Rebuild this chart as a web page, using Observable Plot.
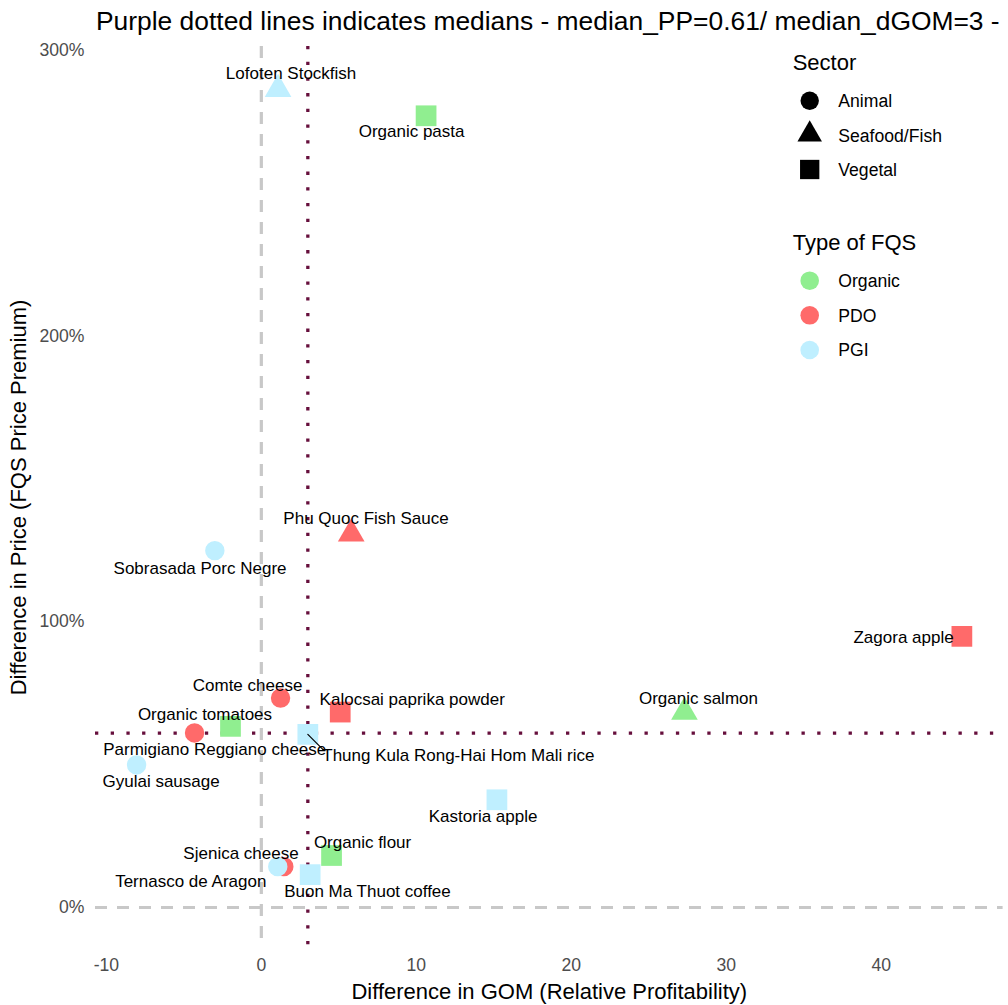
<!DOCTYPE html>
<html><head><meta charset="utf-8">
<script src="https://cdn.jsdelivr.net/npm/d3@7"></script>
<script src="https://cdn.jsdelivr.net/npm/@observablehq/plot@0.6"></script>
<style>
body{margin:0;background:#fff;font-family:"Liberation Sans",Arial,sans-serif;}
#wrap{position:relative;width:1008px;height:1005px;overflow:hidden;background:#fff;}
#title{position:relative;height:40px;}
#title span{position:absolute;left:96px;top:8px;font-size:26.4px;line-height:26.4px;white-space:nowrap;color:#000;}
#legend{position:absolute;left:0;top:0;pointer-events:none;}
</style></head><body>
<div id="wrap"><div id="title"><span>Purple dotted lines indicates medians - median_PP=0.61/ median_dGOM=3 -</span></div><div id="chart"></div></div>
<script>
// ---- data ----
const products = ["Lofoten Stockfish","Organic pasta","Phu Quoc Fish Sauce","Sobrasada Porc Negre","Zagora apple","Comte cheese","Kalocsai paprika powder","Organic salmon","Organic tomatoes","Parmigiano Reggiano cheese","Thung Kula Rong-Hai Hom Mali rice","Gyulai sausage","Kastoria apple","Organic flour","Sjenica cheese","Ternasco de Aragon","Buon Ma Thuot coffee"];
const gom = [1.08, 10.63, 5.8, -3.0, 45.2, 1.24, 5.09, 27.3, -1.99, -4.31, 3.0, -8.05, 15.2, 4.53, 1.45, 1.06, 3.15];
const price = [2.864, 2.771, 1.308, 1.249, 0.949, 0.733, 0.684, 0.684, 0.634, 0.611, 0.606, 0.499, 0.377, 0.182, 0.143, 0.143, 0.115];
const sector = ["Seafood/Fish","Vegetal","Seafood/Fish","Animal","Vegetal","Animal","Vegetal","Seafood/Fish","Vegetal","Animal","Vegetal","Animal","Vegetal","Vegetal","Animal","Animal","Vegetal"];
const fqs = ["PGI","Organic","PDO","PGI","PDO","PDO","PDO","Organic","Organic","PDO","PGI","PGI","PGI","Organic","PDO","PGI","PGI"];
const sectors = ["Animal","Seafood/Fish","Vegetal"];
const fqsTypes = ["Organic","PDO","PGI"];
const medianPP = 0.61;
const medianGOM = 3;
const xTicks = [-10, 0, 10, 20, 30, 40];
const yTicks = [0, 1, 2, 3];
const titleX = "Difference in GOM (Relative Profitability)";
const titleY = "Difference in Price (FQS Price Premium)";

// ---- layout / style (label nudges like ggrepel) ----
const labelNudge = [[13,-16],[-14.5,15.8],[14.8,-15.7],[-14.8,17.8],[-58.3,1.2],[-33,-12.9],[72,-12.9],[14,-13.7],[-25.5,-12.3],[20.2,16.6],[150.5,21.4],[24.5,16.3],[-13.8,17.1],[31,-12.9],[-42.8,-12.6],[-87,15.1],[57.3,16.6]];
const fqsColors = ["#90EE90","#FF6A6A","#BFEFFF"];
const symbolOf = {"Animal":"circle","Seafood/Fish":"triangle","Vegetal":"square"};
const radiusOf = {"Animal":9.7,"Seafood/Fish":9.9,"Vegetal":11.7};
const FONT = "'Liberation Sans', Arial, sans-serif";

const data = products.map((p, i) => ({product: p, gom: gom[i], price: price[i], sector: sector[i], fqs: fqs[i], nudge: labelNudge[i]}));

const lineShape = {draw(ctx, l) { ctx.moveTo(0, 0); ctx.lineTo(0, -l); }};

const marks = [
  Plot.axisX({ticks: xTicks, tickSize: 0, tickPadding: 10, fontSize: 17.6, fill: "#4D4D4D", tickFormat: d => String(d), label: null}),
  Plot.axisY({ticks: yTicks, tickSize: 0, tickPadding: 11, fontSize: 17.6, fill: "#4D4D4D", tickFormat: d => Math.round(d * 100) + "%", label: null}),
  Plot.ruleX([0], {stroke: "#C8C8C8", strokeWidth: 3.2, strokeDasharray: "12 10"}),
  Plot.ruleY([0], {stroke: "#C8C8C8", strokeWidth: 3.2, strokeDasharray: "12 10"}),
  Plot.ruleX([medianGOM], {stroke: "#660F3C", strokeWidth: 3.3, strokeDasharray: "3.3 12.4"}),
  Plot.ruleY([medianPP], {stroke: "#660F3C", strokeWidth: 3.3, strokeDasharray: "3.3 12.4"}),
  ...sectors.map(s => Plot.dot(data.filter(d => d.sector === s), {x: "gom", y: "price", fill: "fqs", symbol: () => symbolOf[s], r: radiusOf[s], stroke: null})),
  Plot.vector(data.filter(d => d.product.startsWith("Thung")), {x: "gom", y: "price", length: 22.6, rotate: 135, anchor: "start", shape: lineShape, stroke: "black", strokeWidth: 1.2}),
  ...data.map(d => Plot.text([d], {x: "gom", y: "price", text: "product", dx: d.nudge[0], dy: d.nudge[1], fontSize: 17, fill: "#000"})),
  Plot.text([titleX], {frameAnchor: "bottom", textAnchor: "middle", dy: 50, fontSize: 22, fill: "#000", text: d => d}),
  Plot.text([titleY], {frameAnchor: "left", textAnchor: "middle", dx: -77, rotate: -90, fontSize: 22, fill: "#000", text: d => d})
];

const chart = Plot.plot({
  width: 1008, height: 965,
  marginLeft: 95, marginRight: 5.4, marginTop: 6, marginBottom: 57,
  style: {fontFamily: FONT, background: "white", overflow: "visible"},
  x: {domain: [-10.7, 47.86]},
  y: {domain: [-0.1435, 3.0135]},
  color: {domain: fqsTypes, range: fqsColors},
  symbol: {domain: ["circle","triangle","square"], range: ["circle","triangle","square"]},
  marks
});
document.getElementById("chart").appendChild(chart);

// ---- legend (inside panel, top right) ----
const lg = d3.select("#wrap").append("svg").attr("id", "legend").attr("width", 1008).attr("height", 400)
  .style("font-family", FONT);
lg.append("text").attr("x", 792.7).attr("y", 70.1).attr("font-size", 22).text("Sector");
const symY = [100.7, 134.3, 169.5];
const symT = [d3.symbolCircle, d3.symbolTriangle, d3.symbolSquare];
const symR = [9.2, 9.1, 10.9];
sectors.forEach((s, i) => {
  lg.append("path").attr("transform", `translate(809.7,${symY[i]})`)
    .attr("d", d3.symbol(symT[i], symR[i] * symR[i] * Math.PI)()).attr("fill", "#000");
  lg.append("text").attr("x", 838.3).attr("y", [106.6, 142, 176.3][i]).attr("font-size", 17.6).text(s);
});
lg.append("text").attr("x", 792.7).attr("y", 249.6).attr("font-size", 22).text("Type of FQS");
const colY = [280.7, 315.3, 350];
fqsTypes.forEach((t, i) => {
  lg.append("circle").attr("cx", 809.7).attr("cy", colY[i]).attr("r", 9.3).attr("fill", fqsColors[i]);
  lg.append("text").attr("x", 838.3).attr("y", colY[i] + 6.3).attr("font-size", 17.6).text(t);
});
</script>
</body></html>
